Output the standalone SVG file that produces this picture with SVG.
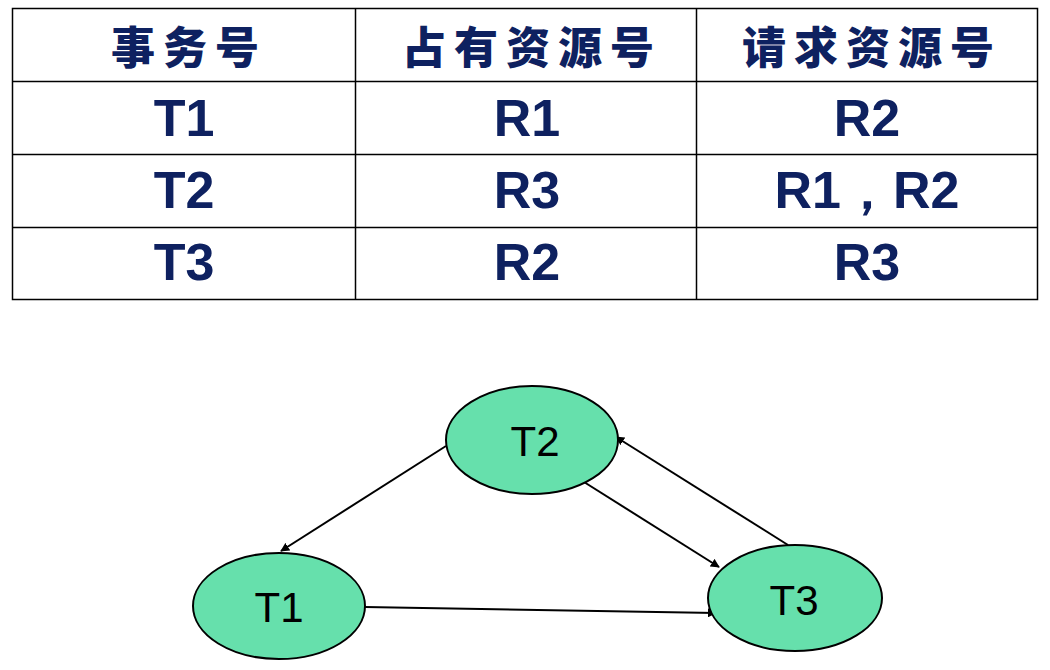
<svg xmlns="http://www.w3.org/2000/svg" width="1050" height="670" viewBox="0 0 1050 670">
  <style>
    .grid { stroke: #000; stroke-width: 1.5; fill: none; }
    .hd { font-family: "Noto Sans CJK SC", "Noto Sans CJK JP", sans-serif; font-weight: 900; font-size: 44px; fill: #0e2160; text-anchor: middle; dominant-baseline: central; letter-spacing: 8px; }
    .cell { font-family: "Liberation Sans", Arial, sans-serif; font-weight: bold; font-size: 52px; fill: #0e2160; text-anchor: middle; }
    .node ellipse { fill: #66e0ac; stroke: #000; stroke-width: 2; }
    .node text { font-family: "Liberation Sans", Arial, sans-serif; font-size: 42px; fill: #000; text-anchor: middle; dominant-baseline: central; }
    .edge { stroke: #000; stroke-width: 2; fill: none; marker-end: url(#arr); }
  </style>
  <defs>
    <marker id="arr" viewBox="0 0 10 10" refX="9" refY="5" markerWidth="9" markerHeight="9" markerUnits="userSpaceOnUse" orient="auto">
      <path d="M0,0 L10,5 L0,10 z" fill="#000"/>
    </marker>
  </defs>
  <rect width="1050" height="670" fill="#fff"/>

  <!-- resource table -->
  <g id="table">
    <rect class="grid" x="12.5" y="8.5" width="1025" height="291"/>
    <line class="grid" x1="12" y1="81.5" x2="1037" y2="81.5"/>
    <line class="grid" x1="12" y1="154.5" x2="1037" y2="154.5"/>
    <line class="grid" x1="12" y1="227.5" x2="1037" y2="227.5"/>
    <line class="grid" x1="355.5" y1="8" x2="355.5" y2="300"/>
    <line class="grid" x1="696.5" y1="8" x2="696.5" y2="300"/>

    <text class="hd" x="189" y="45">事务号</text>
    <text class="hd" x="532" y="45">占有资源号</text>
    <text class="hd" x="872" y="45">请求资源号</text>

    <text class="cell" x="184" y="136">T1</text>
    <text class="cell" x="527" y="136">R1</text>
    <text class="cell" x="867" y="136">R2</text>

    <text class="cell" x="184" y="208">T2</text>
    <text class="cell" x="527" y="208">R3</text>
    <text class="cell" x="867" y="208">R1，R2</text>

    <text class="cell" x="184" y="280">T3</text>
    <text class="cell" x="527" y="280">R2</text>
    <text class="cell" x="867" y="280">R3</text>
  </g>

  <!-- wait-for graph -->
  <g id="connectors">
    <line class="edge" x1="446" y1="446" x2="281" y2="551"/>
    <line class="edge" x1="584" y1="482" x2="719" y2="567"/>
    <line class="edge" x1="788" y1="545" x2="616" y2="437"/>
    <line class="edge" x1="365" y1="607" x2="716" y2="613"/>
  </g>

  <g id="T2" class="node">
    <ellipse cx="532" cy="440" rx="86" ry="54"/>
    <text x="535" y="441">T2</text>
  </g>
  <g id="T1" class="node">
    <ellipse cx="279" cy="606" rx="86" ry="53"/>
    <text x="279" y="607">T1</text>
  </g>
  <g id="T3" class="node">
    <ellipse cx="795" cy="598" rx="87" ry="53"/>
    <text x="794" y="600">T3</text>
  </g>
</svg>
